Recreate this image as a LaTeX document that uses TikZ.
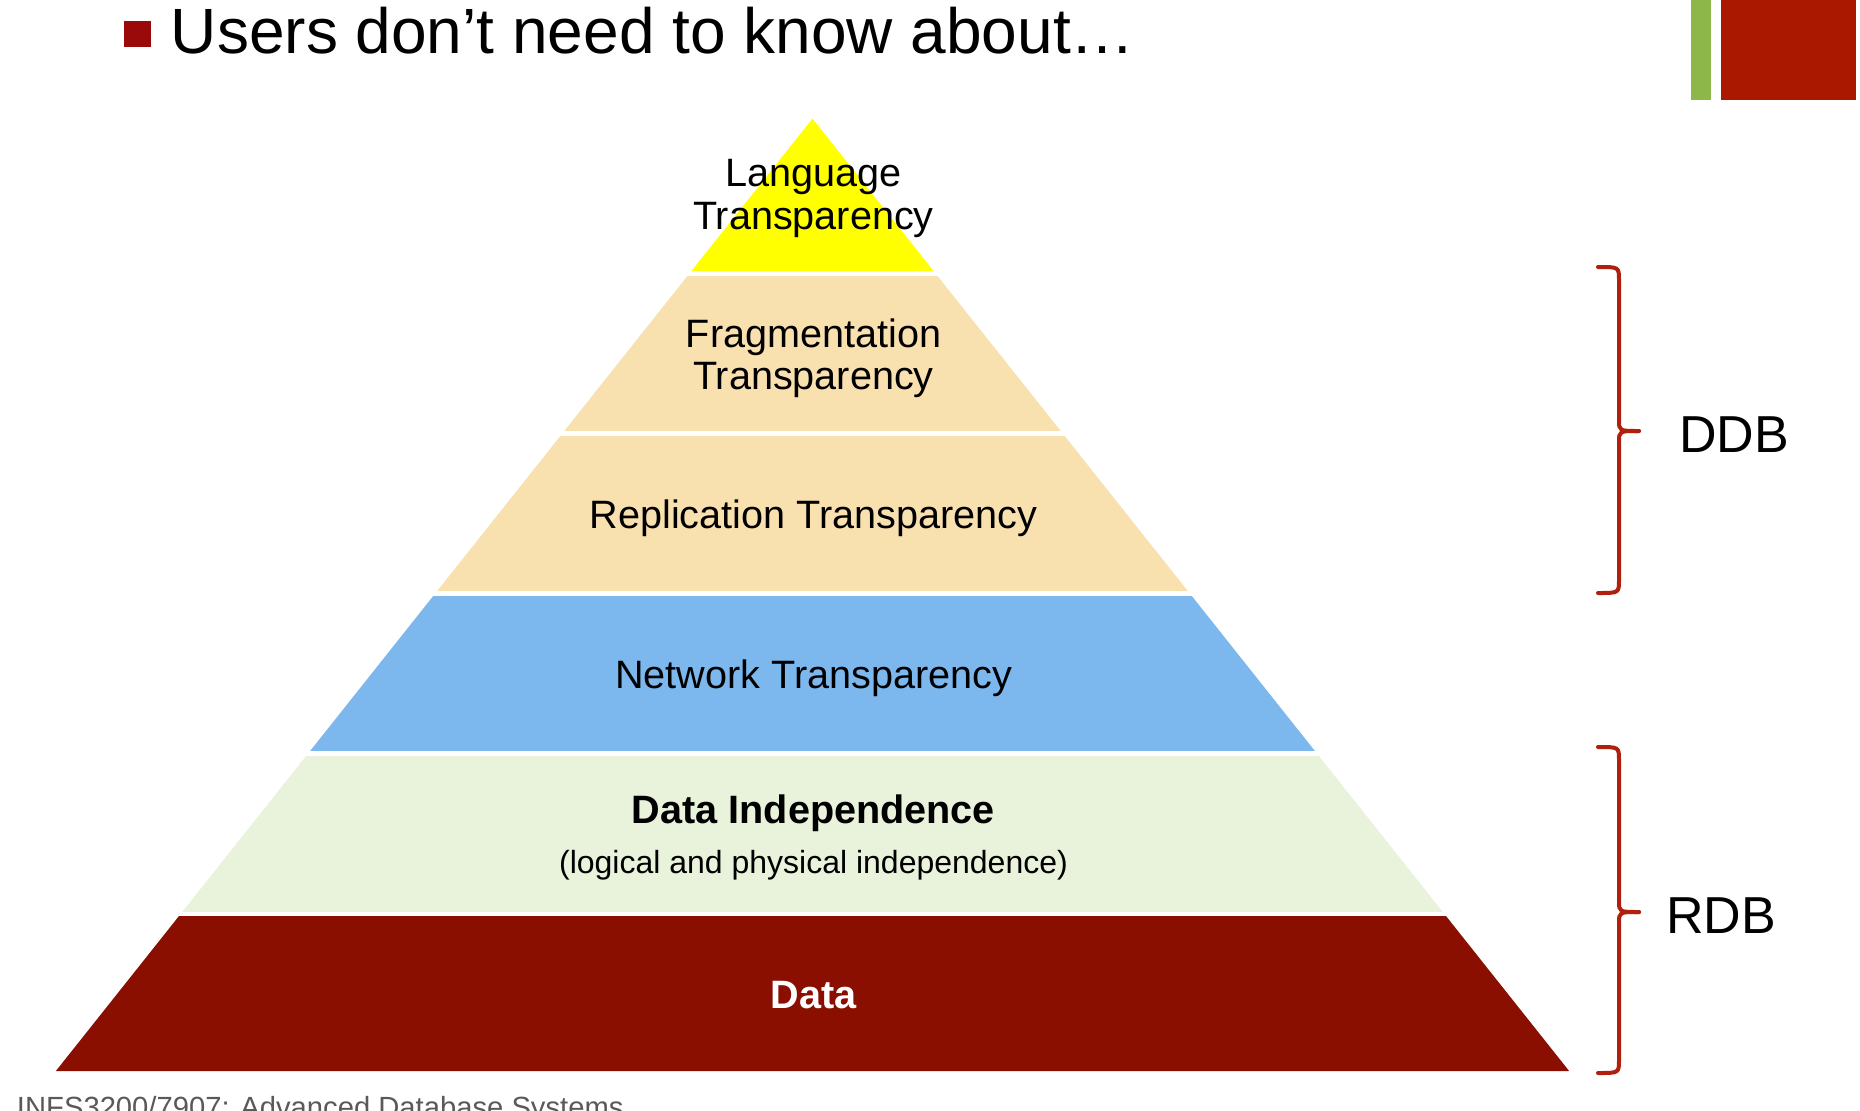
\documentclass[tikz,border=0pt]{standalone}
\usepackage{fontspec}
\setmainfont{Liberation Sans}
\definecolor{cyellow}{HTML}{FFFF00}
\definecolor{cwheat}{HTML}{F9E0AF}
\definecolor{cblue}{HTML}{7CB7EE}
\definecolor{cpale}{HTML}{E9F2DB}
\definecolor{cdata}{HTML}{8A0F00}
\definecolor{cbrace}{HTML}{B0200C}
\definecolor{cred}{HTML}{AB1800}
\definecolor{cgreen}{HTML}{8DB849}
\definecolor{cbullet}{HTML}{9B0A0A}
\definecolor{cfoot}{HTML}{595959}
\tikzset{
  lbl/.style={anchor=base, inner sep=0pt, font=\fontsize{19.8pt}{21pt}\selectfont},
  lblb/.style={lbl, font=\fontsize{19.8pt}{21pt}\selectfont\bfseries},
  side/.style={anchor=base west, inner sep=0pt, font=\fontsize{26pt}{28pt}\selectfont},
  brace/.style={draw=cbrace, line width=2pt, line cap=round, line join=round}
}
\begin{document}
\begin{tikzpicture}[x=0.5pt,y=-0.5pt]
\useasboundingbox (0,0) rectangle (1860,1110);
\fill[white] (0,0) rectangle (1860,1110);
% corner decoration
\fill[cgreen] (1691,0) rectangle (1711,100);
\fill[cred] (1721,0) rectangle (1856,100);
% title
\fill[cbullet] (124,20.5) rectangle (151,47);
\node[anchor=base west, inner sep=0pt, font=\fontsize{32pt}{34pt}\selectfont] (title) at (170.5,53.4) {Users don’t need to know about…};
% pyramid
\coordinate (apex) at (812.5,118.6);
\coordinate (bl) at (55.8,1071.1);
\coordinate (br) at (1569.2,1071.1);
\foreach \t/\b/\c in {100/270.5/cyellow, 276.5/430.7/cwheat, 436.6/590.8/cwheat, 596.7/750.9/cblue, 756.8/911.0/cpale, 916.9/1080/cdata}{
  \begin{scope}
    \clip (0,\t) rectangle (1860,\b);
    \fill[\c] (apex) -- (bl) -- (br) -- cycle;
  \end{scope}
}
% labels
\node[lbl] (lang1) at (813.5,186) {Language};
\node[lbl] (lang2) at (813.5,229) {Transparency};
\node[lbl] (frag1) at (813.5,347) {Fragmentation};
\node[lbl] (frag2) at (813.5,389) {Transparency};
\node[lbl] (repl) at (813.5,528) {Replication Transparency};
\node[lbl] (net) at (813.5,688) {Network Transparency};
\node[lblb] (indep) at (813.5,823) {Data Independence};
\node[anchor=base, inner sep=0pt, font=\fontsize{16pt}{18pt}\selectfont] (indepsub) at (813.5,873) {(logical and physical independence)};
\node[lblb, text=white] (data) at (813.5,1008) {Data};
% braces
\coordinate (d1) at (1598,267);
\coordinate (d2) at (1598,593);
\coordinate (dt) at (1639,431);
\draw[brace] (d1) .. controls (1619,267) .. (1619,280) -- (1619,420) .. controls (1619,431) .. (dt);
\draw[brace] (d2) .. controls (1619,593) .. (1619,580) -- (1619,442) .. controls (1619,431) .. (dt);
\coordinate (r1) at (1598,747);
\coordinate (r2) at (1598,1073);
\coordinate (rt) at (1639,912);
\draw[brace] (r1) .. controls (1619,747) .. (1619,760) -- (1619,901) .. controls (1619,912) .. (rt);
\draw[brace] (r2) .. controls (1619,1073) .. (1619,1060) -- (1619,923) .. controls (1619,912) .. (rt);
\node[side] (ddb) at (1679,452.6) {DDB};
\node[side] (rdb) at (1666,933) {RDB};
% footer
\node[anchor=base west, inner sep=0pt, text=cfoot, font=\fontsize{14.6pt}{16pt}\selectfont] (foot) at (16.6,1117) {INFS3200/7907: Advanced Database Systems};
\end{tikzpicture}
\end{document}
